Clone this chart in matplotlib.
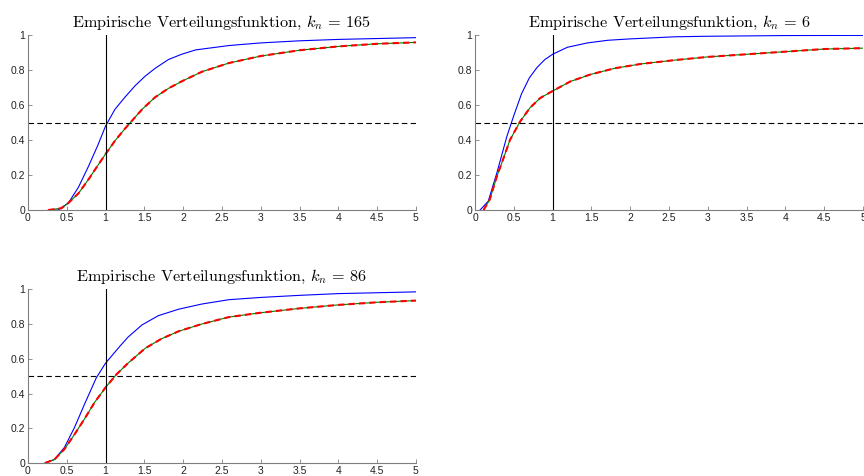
import numpy as np
import matplotlib
matplotlib.use('Agg')
import matplotlib.pyplot as plt

plt.rcParams['font.family'] = ['Liberation Sans', 'DejaVu Sans']
plt.rcParams['mathtext.fontset'] = 'cm'

# k_n = 165
x1_blue = [0.3, 0.39, 0.52, 0.65, 0.78, 0.9, 1.0, 1.12, 1.25, 1.38, 1.51, 1.64, 1.81, 1.98, 2.16, 2.59, 3.0, 3.5, 4.0, 4.5, 5.0]
y1_blue = [0.0, 0.0, 0.04, 0.13, 0.25, 0.37, 0.48, 0.575, 0.645, 0.71, 0.765, 0.81, 0.86, 0.89, 0.915, 0.94, 0.955, 0.967, 0.975, 0.98, 0.985]
x1_red = [0.26, 0.43, 0.52, 0.65, 0.78, 0.9, 1.0, 1.12, 1.25, 1.34, 1.47, 1.64, 1.81, 1.98, 2.24, 2.59, 3.0, 3.5, 4.0, 4.5, 5.0]
y1_red = [0.0, 0.01, 0.04, 0.095, 0.175, 0.255, 0.32, 0.395, 0.465, 0.51, 0.575, 0.645, 0.695, 0.735, 0.79, 0.84, 0.88, 0.913, 0.935, 0.95, 0.958]

# k_n = 6
x2_blue = [0.065, 0.17, 0.28, 0.41, 0.5, 0.6, 0.7, 0.8, 0.9, 1.0, 1.19, 1.45, 1.71, 2.0, 2.58, 3.0, 4.0, 5.0]
y2_blue = [0.0, 0.05, 0.21, 0.42, 0.54, 0.665, 0.755, 0.815, 0.86, 0.89, 0.93, 0.955, 0.97, 0.978, 0.99, 0.993, 0.997, 0.998]
x2_red = [0.11, 0.19, 0.28, 0.37, 0.45, 0.58, 0.71, 0.84, 1.0, 1.23, 1.49, 1.8, 2.14, 2.58, 3.0, 3.5, 4.0, 4.5, 5.0]
y2_red = [0.0, 0.06, 0.19, 0.30, 0.40, 0.505, 0.585, 0.64, 0.68, 0.735, 0.775, 0.81, 0.835, 0.857, 0.875, 0.89, 0.905, 0.92, 0.925]

# k_n = 86
x3_blue = [0.22, 0.34, 0.47, 0.6, 0.73, 0.88, 1.0, 1.19, 1.29, 1.47, 1.68, 1.94, 2.24, 2.59, 3.0, 3.5, 4.0, 4.5, 5.0]
y3_blue = [0.0, 0.02, 0.09, 0.205, 0.34, 0.49, 0.575, 0.675, 0.725, 0.795, 0.848, 0.885, 0.915, 0.94, 0.953, 0.965, 0.975, 0.98, 0.985]
x3_red = [0.22, 0.34, 0.47, 0.6, 0.73, 0.86, 1.0, 1.14, 1.29, 1.51, 1.72, 1.94, 2.24, 2.59, 3.0, 3.5, 4.0, 4.5, 5.0]
y3_red = [0.0, 0.02, 0.08, 0.165, 0.255, 0.35, 0.435, 0.51, 0.575, 0.66, 0.715, 0.758, 0.80, 0.84, 0.865, 0.89, 0.91, 0.925, 0.935]

k_values = [165, 6, 86]
xticks = [0, 0.5, 1, 1.5, 2, 2.5, 3, 3.5, 4, 4.5, 5]
xticklabels = ['0', '0.5', '1', '1.5', '2', '2.5', '3', '3.5', '4', '4.5', '5']
yticks = [0, 0.2, 0.4, 0.6, 0.8, 1]
yticklabels = ['0', '0.2', '0.4', '0.6', '0.8', '1']

panels = [
    (x1_blue, y1_blue, x1_red, y1_red),
    (x2_blue, y2_blue, x2_red, y2_red),
    (x3_blue, y3_blue, x3_red, y3_red),
]
positions = [
    [0.0324, 0.5588, 0.449, 0.3676],
    [0.5498, 0.5588, 0.449, 0.3676],
    [0.0324, 0.0273, 0.449, 0.3650],
]

fig = plt.figure(figsize=(8.64, 4.76), dpi=100)
for k, (xb, yb, xr, yr), pos in zip(k_values, panels, positions):
    ax = fig.add_axes(pos)
    ax.plot(xb, yb, color='blue', lw=0.8)
    ax.plot(xr, yr, color='green', lw=0.8)
    ax.plot(xr, yr, color='red', lw=1.5, ls=(0, (3, 2)))
    ax.axhline(0.5, color='black', lw=0.8, ls=(0, (5, 3)))
    ax.axvline(1, color='black', lw=0.8)
    ax.set_xlim(0, 5)
    ax.set_ylim(0, 1)
    ax.set_xticks(xticks)
    ax.set_xticklabels(xticklabels)
    ax.set_yticks(yticks)
    ax.set_yticklabels(yticklabels)
    for s in ['top', 'right']:
        ax.spines[s].set_visible(False)
    for s in ['left', 'bottom']:
        ax.spines[s].set_color('#7f7f7f')
        ax.spines[s].set_linewidth(0.8)
    ax.tick_params(direction='in', length=3, width=0.6, color='#7f7f7f',
                   labelsize=7.5, pad=2, labelcolor='#222222')
    ax.set_title('Empirische Verteilungsfunktion, $k_n\\,=\\,%d$' % k,
                 fontsize=11.7, fontfamily='cmr10', pad=6)

fig.savefig('out.png', dpi=100)
